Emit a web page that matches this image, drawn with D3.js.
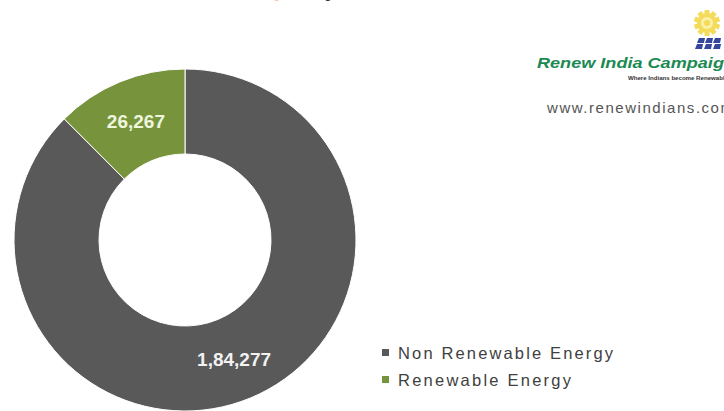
<!DOCTYPE html>
<html>
<head>
<meta charset="utf-8">
<script src="https://cdn.jsdelivr.net/npm/d3@7"></script>
<style>
  html, body { margin: 0; padding: 0; background: #ffffff; }
  svg { display: block; font-family: Arial, "Liberation Sans", sans-serif; }
</style>
</head>
<body>
<svg id="chart" width="724" height="411"></svg>
<script>
// Installed capacity split (MW)
const categories = ["Non Renewable Energy", "Renewable Energy"];
const values = [184277, 26267];
const valueLabels = ["1,84,277", "26,267"];
const colors = ["#595959", "#77933c"];

const svg = d3.select("#chart");

// Title sits mostly above the visible area
svg.append("text")
  .attr("x", 337).attr("y", -4)
  .attr("text-anchor", "end")
  .attr("font-size", 22).attr("font-weight", "bold")
  .attr("fill", "#f0c8b0")
  .text("Installed Capacit")
  .append("tspan")
  .attr("fill", "#333")
  .text("y");

// Donut
const cx = 185, cy = 240, outerR = 171, innerR = 86;
const pie = d3.pie().sort(null).value(d => d);
const arc = d3.arc().innerRadius(innerR).outerRadius(outerR);
const arcs = pie(values);

const g = svg.append("g").attr("transform", `translate(${cx},${cy})`);
g.selectAll("path.slice")
  .data(arcs)
  .join("path")
  .attr("class", "slice")
  .attr("d", arc)
  .attr("fill", (d, i) => colors[i])
  .attr("stroke", "#ffffff")
  .attr("stroke-width", 1);

g.selectAll("text.value")
  .data(arcs)
  .join("text")
  .attr("class", "value")
  .attr("transform", d => `translate(${arc.centroid(d)})`)
  .attr("text-anchor", "middle")
  .attr("dy", "0.36em")
  .attr("font-size", 19)
  .attr("font-weight", "bold")
  .attr("fill", (d, i) => i === 1 ? "#eef6de" : "#f2f2f2")
  .text((d, i) => valueLabels[i]);

// Legend
const legend = svg.append("g").attr("transform", "translate(382,353)");
const legendWidths = [215, 173];
categories.forEach((c, i) => {
  const row = legend.append("g").attr("transform", `translate(0,${i * 27})`);
  row.append("rect")
    .attr("x", 0).attr("y", -4).attr("width", 7).attr("height", 7)
    .attr("fill", colors[i]);
  row.append("text")
    .attr("x", 16).attr("y", 0)
    .attr("dy", "0.35em")
    .attr("font-size", 16.5)
    .attr("fill", "#404040")
    .attr("textLength", legendWidths[i])
    .attr("lengthAdjust", "spacing")
    .text(c);
});

// Campaign logo, top right
const logo = svg.append("g");
// sun / gear
const sun = logo.append("g").attr("transform", "translate(707,23)");
d3.range(10).forEach(k => {
  sun.append("rect")
    .attr("x", -2.5).attr("y", -13).attr("width", 5).attr("height", 5)
    .attr("fill", "#f4dc5a")
    .attr("transform", `rotate(${k * 36})`);
});
sun.append("circle").attr("r", 10).attr("fill", "#f4dc5a");
sun.append("circle").attr("r", 6).attr("fill", "#fbf0a8");
sun.append("circle").attr("r", 3).attr("fill", "#f5da55");
// solar panels
const panel = logo.append("g").attr("transform", "translate(697,38)");
[[0, 0], [8, 0], [16, 0], [-2, 6], [7, 6], [16, 6]].forEach(([x, y]) => {
  panel.append("path")
    .attr("d", `M${x + 2},${y} L${x + 8},${y} L${x + 7},${y + 5} L${x},${y + 5} Z`)
    .attr("fill", "#34479a");
});
logo.append("text")
  .attr("x", 537).attr("y", 68)
  .attr("font-size", 14).attr("font-weight", "bold").attr("font-style", "italic")
  .attr("fill", "#1b8a52")
  .attr("textLength", 198).attr("lengthAdjust", "spacingAndGlyphs")
  .text("Renew India Campaign");
logo.append("text")
  .attr("x", 628).attr("y", 80)
  .attr("font-size", 4.5).attr("font-weight", "bold")
  .attr("fill", "#333")
  .attr("textLength", 100).attr("lengthAdjust", "spacingAndGlyphs")
  .text("Where Indians become Renewable");

svg.append("text")
  .attr("x", 547).attr("y", 113)
  .attr("font-size", 15)
  .attr("fill", "#555")
  .attr("textLength", 186).attr("lengthAdjust", "spacing")
  .text("www.renewindians.com");
</script>
</body>
</html>
